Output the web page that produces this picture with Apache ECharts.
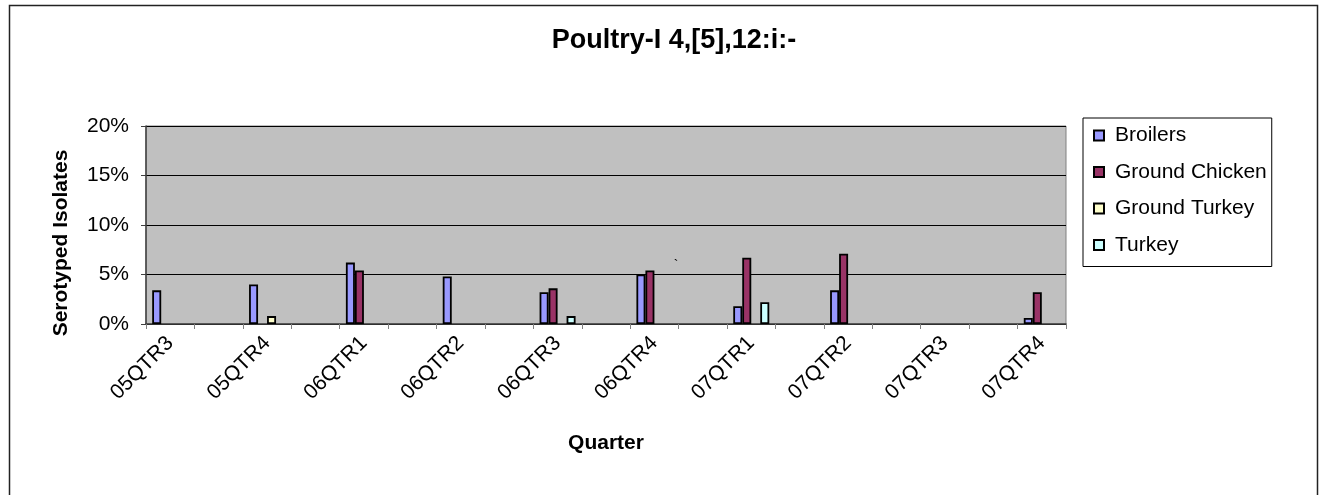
<!DOCTYPE html>
<html>
<head>
<meta charset="utf-8">
<script src="https://cdn.jsdelivr.net/npm/echarts@6/dist/echarts.min.js"></script>
<style>
html,body{margin:0;padding:0;background:#fff;}
#chart{width:1322px;height:495px;}
</style>
</head>
<body>
<div id="chart"></div>
<script>
// Categories (blank entries are the unlabeled in-between slots of the original axis)
var categories = ['05QTR3','', '05QTR4','', '06QTR1','', '06QTR2','', '06QTR3','', '06QTR4','', '07QTR1','', '07QTR2','', '07QTR3','', '07QTR4'];
// Values in percent of serotyped isolates
var broilers      = [3.4,null, 4.0,null, 6.2,null, 4.8,null, 3.2,null, 5.0,null, 1.8,null, 3.4,null, null,null, 0.6];
var groundChicken = [null,null, null,null, 5.4,null, null,null, 3.6,null, 5.4,null, 6.7,null, 7.1,null, null,null, 3.2];
var groundTurkey  = [null,null, 0.8,null, null,null, null,null, null,null, null,null, null,null, null,null, null,null, null];
var turkey        = [null,null, null,null, null,null, null,null, 0.8,null, null,null, 2.2,null, null,null, null,null, null];
var seriesNames = ['Broilers','Ground Chicken','Ground Turkey','Turkey'];
var yTicks = [0,5,10,15,20];

var FONT = '"Liberation Sans", Arial, sans-serif';
var colors = ['#9999FF','#993366','#FFFFCC','#CCFFFF'];
var dataSets = [broilers, groundChicken, groundTurkey, turkey];

var chart = echarts.init(document.getElementById('chart'), null, {renderer:'canvas'});
var series = seriesNames.map(function(n,i){
  return {
    name:n, type:'bar', data:dataSets[i], barWidth:9, barGap:'0%',
    itemStyle:{color:colors[i], borderColor:'#000', borderWidth:1.8},
    emphasis:{disabled:true}
  };
});
chart.setOption({
  animation:false,
  backgroundColor:'#fff',
  title:{
    text:'Poultry-I 4,[5],12:i:-', left:669, top:22, textAlign:'center',
    textStyle:{fontFamily:FONT, fontWeight:'bold', fontSize:27, color:'#000'}
  },
  grid:{left:146, top:126, right:256, bottom:171, show:true, backgroundColor:'#C0C0C0', borderColor:'#808080', borderWidth:1},
  legend:{
    orient:'vertical', left:1083, top:118,
    data:seriesNames,
    itemWidth:10, itemHeight:10, itemGap:15.5,
    padding:[7,5,11,10],
    borderColor:'#000', borderWidth:1, backgroundColor:'#fff',
    icon:'rect',
    textStyle:{fontFamily:FONT, fontSize:21, color:'#000', padding:[0,0,0,6]}
  },
  xAxis:{
    type:'category', data:categories, boundaryGap:true,
    name:'Quarter', nameLocation:'middle', nameGap:109,
    nameTextStyle:{fontFamily:FONT, fontWeight:'bold', fontSize:21, color:'#000'},
    axisLine:{show:true, lineStyle:{color:'#404040', width:1.5}},
    axisTick:{show:true, interval:0, alignWithLabel:false, length:5, lineStyle:{color:'#808080'}},
    axisLabel:{interval:0, rotate:45, margin:16, fontFamily:FONT, fontSize:21, color:'#000'},
    splitLine:{show:false}
  },
  yAxis:{
    type:'value', min:yTicks[0], max:yTicks[yTicks.length-1], interval:5,
    axisLine:{show:true, lineStyle:{color:'#404040', width:1.5}},
    axisTick:{show:true, length:5, lineStyle:{color:'#404040'}},
    axisLabel:{formatter:'{value}%', margin:17, fontFamily:FONT, fontSize:21, color:'#000'},
    splitLine:{show:true, lineStyle:{color:'#000', width:1}}
  },
  series:series,
  graphic:[
    {type:'rect', left:7, top:3, shape:{width:1308, height:600}, style:{fill:'none', stroke:'#222', lineWidth:1.5}, silent:true, z:-1},
    {type:'text', x:61, y:243, rotation:Math.PI/2, style:{text:'Serotyped Isolates', font:'bold 21px '+FONT, fill:'#000', textAlign:'center', textVerticalAlign:'middle'}},
    {type:'text', x:676, y:266, style:{text:'`', font:'14px '+FONT, fill:'#000', textAlign:'center', textVerticalAlign:'middle'}, z:10}
  ]
});
</script>
</body>
</html>
